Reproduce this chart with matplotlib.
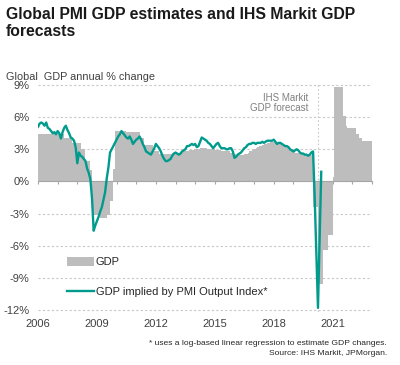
import numpy as np
import matplotlib
matplotlib.use("Agg")
import matplotlib.pyplot as plt

plt.rcParams['font.family'] = ['Liberation Sans', 'DejaVu Sans']

# GDP annual % change, monthly steps, Jan 2006 - Dec 2022 (forecast from Apr 2020)
gdp = [
    4.4, 4.4, 4.4, 4.4, 4.4, 4.4, 4.4, 4.4, 4.4, 4.4, 4.4, 4.4,   # 2006
    4.4, 4.4, 4.4, 4.4, 4.1, 4.1, 4.1, 4.1, 4.1, 3.6, 3.6, 3.6,   # 2007
    3.6, 3.6, 3.0, 3.0, 3.0, 1.9, 1.9, 1.9, 1.1, -3.1, -3.1, -3.1,  # 2008
    -3.1, -3.1, -3.4, -3.4, -3.4, -3.4, -3.1, -3.1, -1.8, -1.8, 1.2, 4.7,  # 2009
    4.7, 4.7, 4.7, 4.7, 4.7, 4.7, 4.6, 4.6, 4.6, 4.6, 4.6, 4.6,   # 2010
    4.6, 4.6, 4.1, 4.1, 4.1, 3.4, 3.4, 3.4, 3.4, 3.4, 2.8, 2.8,   # 2011
    2.8, 2.8, 2.6, 2.6, 2.6, 2.6, 2.6, 2.6, 2.6, 2.6, 2.7, 2.7,   # 2012
    2.7, 2.7, 2.7, 2.7, 2.8, 2.8, 2.8, 2.8, 2.9, 2.9, 2.9, 3.0,   # 2013
    3.0, 3.0, 3.0, 3.1, 3.1, 3.1, 3.1, 3.0, 3.0, 3.0, 3.0, 3.0,   # 2014
    2.9, 2.9, 2.9, 2.9, 2.8, 2.8, 2.8, 2.8, 2.8, 2.7, 2.7, 2.7,   # 2015
    2.6, 2.5, 2.5, 2.5, 2.5, 2.5, 2.6, 2.6, 2.7, 2.8, 2.8, 2.9,   # 2016
    3.0, 3.1, 3.2, 3.3, 3.3, 3.4, 3.5, 3.5, 3.6, 3.6, 3.7, 3.7,   # 2017
    3.7, 3.7, 3.6, 3.6, 3.5, 3.4, 3.3, 3.3, 3.2, 3.1, 3.0, 2.9,   # 2018
    2.8, 2.7, 2.7, 2.7, 2.6, 2.6, 2.6, 2.5, 2.5, 2.5, 2.5, 2.5,   # 2019
    -2.4, -2.4, -2.4, -9.6, -9.6, -9.6, -6.4, -6.4, -6.4, -5.0, -5.0, -5.0,  # 2020
    0.4, 8.8, 8.8, 8.8, 8.8, 8.8, 6.1, 6.1, 5.2, 5.0, 5.0, 5.0,   # 2021
    5.0, 5.0, 4.4, 4.4, 4.1, 4.1, 3.8, 3.8, 3.8, 3.8, 3.8, 3.8,   # 2022
]

# GDP implied by PMI Output Index, monthly, Jan 2006 - Jun 2020
pmi_gdp = [
    5.1, 5.4, 5.5, 5.4, 5.2, 5.5, 5.0, 4.9, 4.7, 4.5, 4.6, 4.4,   # 2006
    4.7, 4.5, 4.0, 4.6, 5.0, 5.2, 4.8, 4.5, 4.1, 4.0, 3.8, 3.2,   # 2007
    1.7, 2.7, 2.4, 2.3, 2.1, 1.9, 1.2, 0.8, 0.2, -1.6, -4.6, -4.1,  # 2008
    -3.7, -3.3, -2.8, -2.4, -1.7, -1.0, 0.3, 1.3, 2.7, 3.0, 3.3, 3.6,  # 2009
    3.9, 4.2, 4.4, 4.7, 4.5, 4.3, 4.1, 4.0, 4.2, 3.9, 3.5, 3.7,   # 2010
    3.9, 4.0, 4.2, 3.9, 3.5, 3.2, 2.8, 2.7, 2.6, 2.5, 2.8, 3.1,   # 2011
    3.5, 3.3, 3.1, 2.8, 2.4, 2.1, 1.9, 1.9, 2.0, 2.1, 2.4, 2.6,   # 2012
    2.7, 2.6, 2.5, 2.6, 2.8, 2.9, 3.0, 3.3, 3.3, 3.4, 3.5, 3.4,   # 2013
    3.5, 3.2, 3.3, 3.7, 4.1, 4.0, 3.9, 3.8, 3.6, 3.5, 3.3, 3.1,   # 2014
    3.3, 3.5, 3.6, 3.3, 3.1, 3.1, 3.1, 3.0, 3.0, 3.1, 3.1, 2.8,   # 2015
    2.2, 2.3, 2.5, 2.6, 2.7, 2.9, 3.1, 3.2, 3.4, 3.5, 3.5, 3.6,   # 2016
    3.6, 3.5, 3.6, 3.6, 3.6, 3.7, 3.6, 3.7, 3.8, 3.8, 3.8, 3.8,   # 2017
    3.9, 3.7, 3.5, 3.6, 3.6, 3.5, 3.4, 3.3, 3.3, 3.2, 3.0, 2.9,   # 2018
    2.8, 2.9, 3.0, 2.9, 2.7, 2.6, 2.6, 2.5, 2.5, 2.4, 2.5, 2.7,   # 2019
    2.8, -1.5, -6.5, -11.8, -5.5, 0.9,                            # 2020
]

year_ticks = [2006, 2009, 2012, 2015, 2018, 2021]
y_ticks = [-12, -9, -6, -3, 0, 3, 6, 9]
forecast_start = 2020.25

teal = '#009b8d'
grey = '#bdbdbd'
txt = '#404040'

gdp_edges = 2006 + np.arange(len(gdp) + 1) / 12
pmi_x = 2006 + np.arange(len(pmi_gdp)) / 12

fig = plt.figure(figsize=(4, 3.65), dpi=100)
ax = fig.add_axes([38 / 400, 1 - 311.6 / 365, (372 - 38) / 400, (311.6 - 83.4) / 365])

ax.stairs(gdp, gdp_edges, baseline=0, fill=True, color=grey, label='GDP', zorder=1)
ax.plot(pmi_x, pmi_gdp, color=teal, lw=1.7, label='GDP implied by PMI Output Index*', zorder=3)
ax.axvline(forecast_start, color='#c8c8c8', lw=0.8, ls=(0, (1.5, 2)), zorder=0.5)
ax.text(2019.75, 8.3, 'IHS Markit\nGDP forecast', ha='right', va='top',
        fontsize=7, color='#808080', linespacing=1.1)

ax.set_xlim(2006, 2023)
ax.set_ylim(-12.15, 9.15)
ax.set_yticks(y_ticks)
ax.set_yticklabels([f'{v}%' for v in y_ticks])
ax.yaxis.grid(True, color='#c8c8c8', lw=0.8, ls=(0, (2, 2)))
ax.set_axisbelow(True)
for s in ['top', 'right', 'left']:
    ax.spines[s].set_visible(False)
ax.spines['bottom'].set_position(('data', 0))
ax.spines['bottom'].set_color('#a6a6a6')
ax.spines['bottom'].set_zorder(2)
ax.set_xticks(range(2006, 2024))
ax.tick_params(axis='x', length=2.5, color='#a6a6a6', labelbottom=False)
ax.tick_params(axis='y', length=0, labelsize=8, labelcolor=txt, pad=6)

sec = ax.secondary_xaxis('bottom')
sec.set_xticks(year_ticks)
sec.set_xticklabels([str(y) for y in year_ticks])
sec.tick_params(length=0, labelsize=8, labelcolor=txt, pad=5)
sec.spines['bottom'].set_visible(False)

ax.legend(loc='upper left', bbox_to_anchor=(67 / 400, 1 - 257 / 365),
          bbox_transform=fig.transFigure, frameon=False, fontsize=8,
          handlelength=2.45, handleheight=0.9, handletextpad=0.15,
          labelspacing=1.75, borderpad=0, borderaxespad=0, labelcolor='#262626')

fig.text(6 / 400, 1 - 7 / 365, 'Global PMI GDP estimates and IHS Markit GDP\nforecasts',
         ha='left', va='top', fontsize=11.3, fontweight='bold', color='#1a1a1a', linespacing=1.2)
fig.text(6 / 400, 1 - 80 / 365, 'Global  GDP annual % change', ha='left', va='baseline',
         fontsize=7.8, color=txt)
fig.text(387 / 400, 1 - 345 / 365, '* uses a log-based linear regression to estimate GDP changes.',
         ha='right', va='baseline', fontsize=6.1, color='#262626')
fig.text(387 / 400, 1 - 355 / 365, 'Source: IHS Markit, JPMorgan.',
         ha='right', va='baseline', fontsize=6.1, color='#262626')

fig.savefig('out.png', dpi=100)
